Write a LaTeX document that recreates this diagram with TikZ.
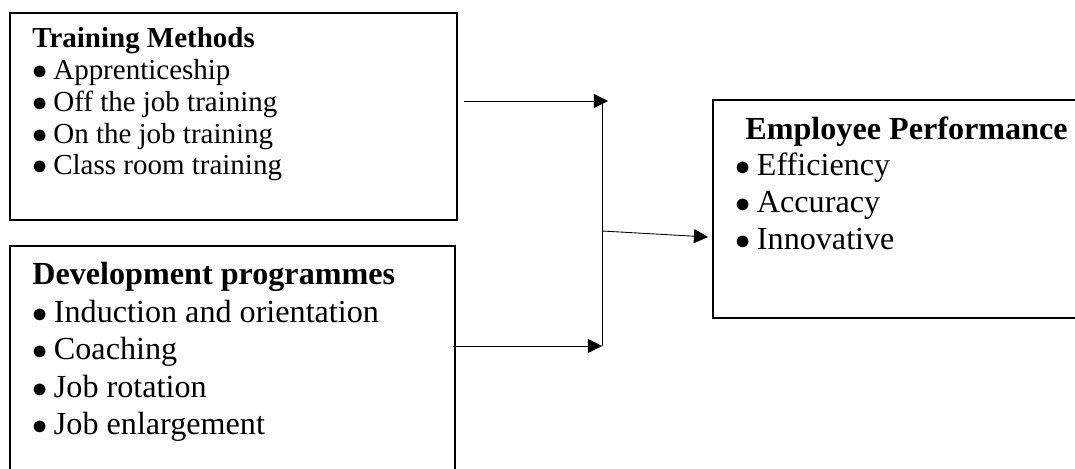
\documentclass[tikz,border=0pt]{standalone}
\usepackage{fontspec}
\setmainfont{Liberation Serif}
\usetikzlibrary{arrows.meta,calc}
\newcommand{\vineta}{$\bullet$\hspace{0.2em}}
\begin{document}
\begin{tikzpicture}[x=0.02cm,y=-0.02cm,
  caja/.style={draw, line width=0.9pt, inner sep=0pt, outer sep=0pt, anchor=north west},
  txtA/.style={inner sep=0pt, anchor=base west, font=\fontsize{16.5}{18}\selectfont},
  txtB/.style={inner sep=0pt, anchor=base west, font=\fontsize{18.3}{22}\selectfont},
  flecha/.style={line width=0.5pt, -{Triangle[length=8pt,width=8pt]}}]
  \clip (0,0) rectangle (1075,469);
  % Cajas
  \node[caja, minimum width=8.94cm, minimum height=4.14cm] (tm) at (10,13) {};
  \node[caja, minimum width=8.9cm, minimum height=5cm] (dp) at (10,246) {};
  \node[caja, minimum width=7.8cm, minimum height=4.36cm] (ep) at (713,100) {};
  % Métodos de formación
  \node[txtA] (tmt) at (32,48) {\textbf{Training Methods}};
  \foreach \t [count=\i] in {Apprenticeship, Off the job training, On the job training, Class room training}
    \node[txtA] (tm\i) at (32,48+31.7*\i) {\vineta\t};
  % Programas de desarrollo
  \node[txtB] (dpt) at (32,285) {\textbf{Development programmes}};
  \foreach \t [count=\i] in {Induction and orientation, Coaching, Job rotation, Job enlargement}
    \node[txtB] (dp\i) at (32,285+37.5*\i) {\vineta\t};
  % Desempeño
  \node[txtB] (ept) at (745,140) {\textbf{Employee Performance}};
  \foreach \t [count=\i] in {Efficiency, Accuracy, Innovative}
    \node[txtB] (ep\i) at (735,139+37*\i) {\vineta\t};
  % Conectores
  \coordinate (jtop) at (602,101);
  \coordinate (jmid) at (602,231);
  \coordinate (jbot) at (602,346);
  \coordinate (epin) at (708,237);
  \draw[flecha] ($(tm.east |- jtop)+(7,0)$) -- ($(jtop)+(6,0)$);
  \draw[flecha] ($(dp.east |- jbot)+(-2,0)$) -- (jbot);
  \draw[line width=0.5pt] (jtop) -- (jbot);
  \draw[flecha] (jmid) -- (epin);
\end{tikzpicture}
\end{document}
